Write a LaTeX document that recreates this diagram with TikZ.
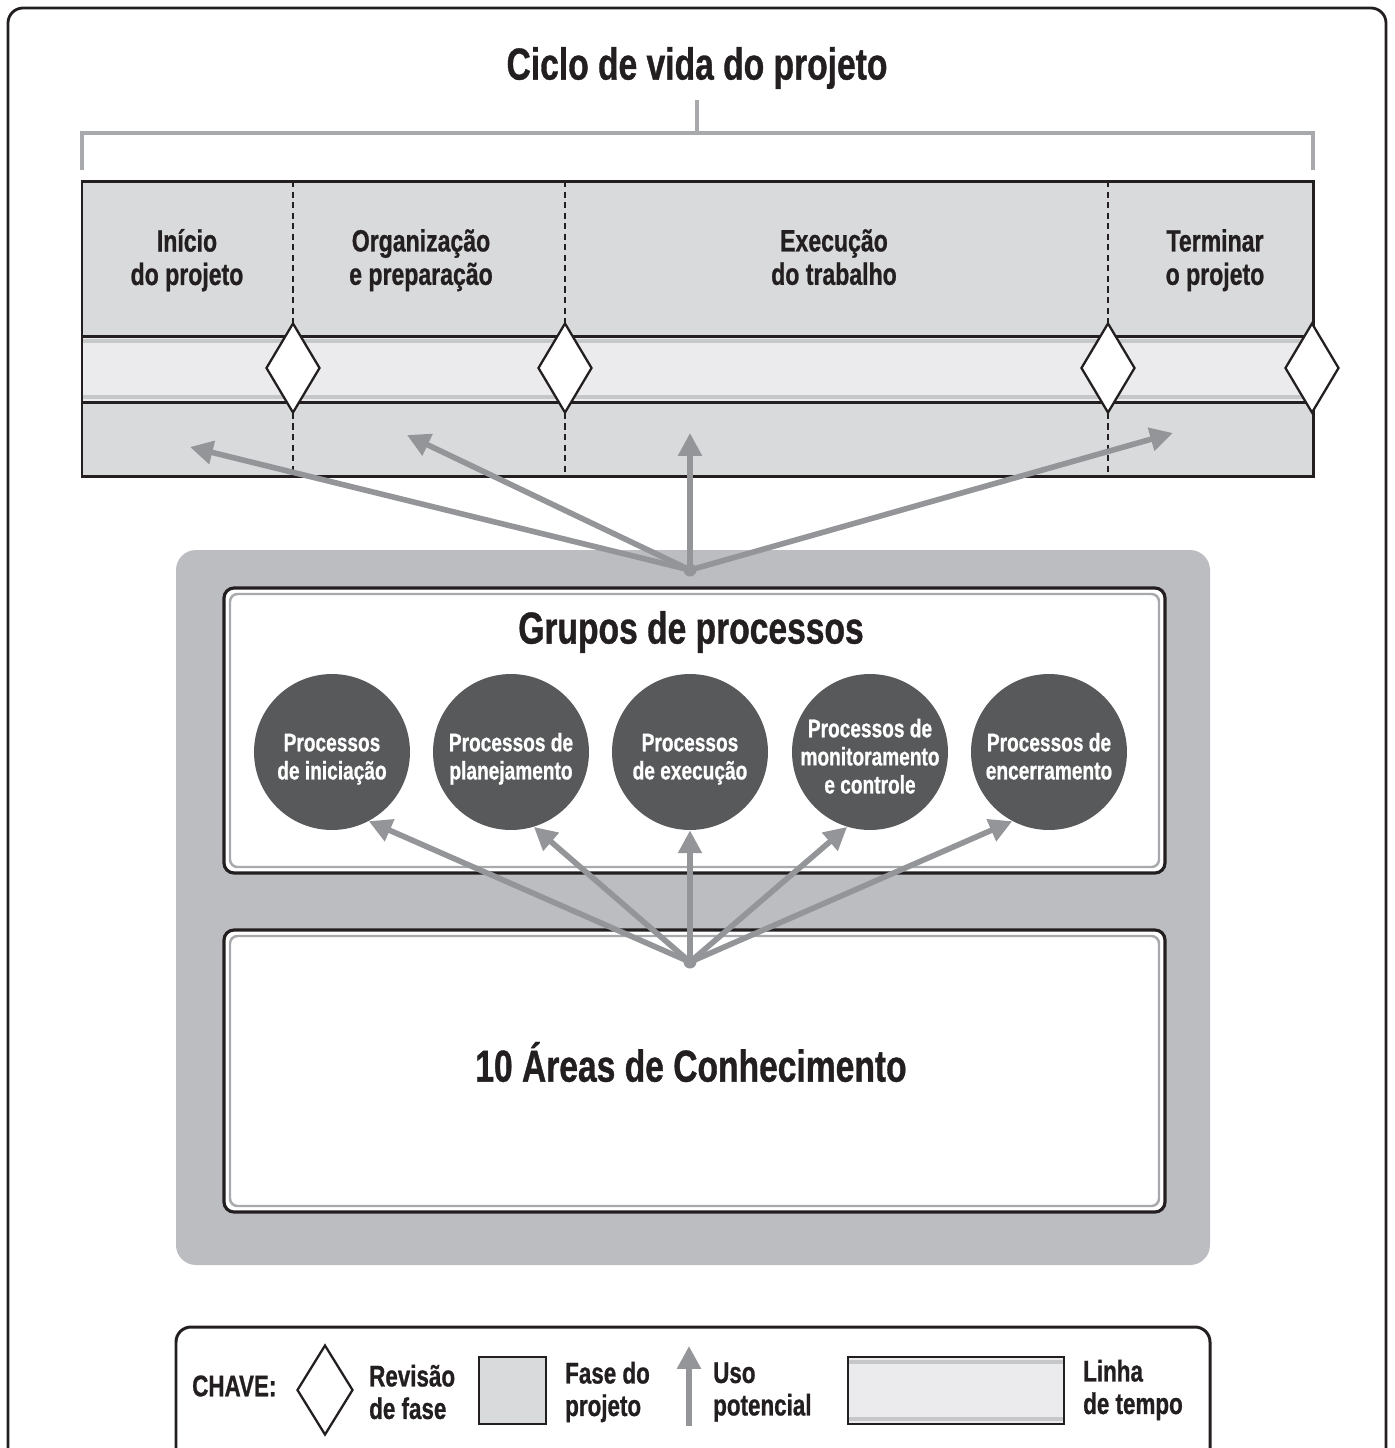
\documentclass[tikz,border=0pt]{standalone}
\usepackage{fontspec}
\setmainfont{Liberation Sans}[FakeStretch=0.75, BoldFeatures={FakeBold=0.8}]
\usepackage{xcolor}
\usepackage{tikz}
\usetikzlibrary{shapes,arrows,positioning,calc,arrows.meta}

\definecolor{tinta}{HTML}{231F20}
\definecolor{fasecor}{HTML}{D9DADB}
\definecolor{tempocor}{HTML}{EBEBED}
\definecolor{bordacor}{HTML}{C6C7C9}
\definecolor{fundocor}{HTML}{BCBDC0}
\definecolor{setacor}{HTML}{939598}
\definecolor{chavecor}{HTML}{A7A9AC}
\definecolor{bolacor}{HTML}{58595B}

\newcommand{\cbola}[1]{\rule{0pt}{20pt}#1\strut}

\begin{document}
\begin{tikzpicture}[auto, x=0.02cm, y=-0.02cm,
    seta/.style={draw=setacor, line width=3.2pt, -{Triangle[length=13pt,width=13pt]}},
    revisao/.style={diamond, draw=tinta, line width=1.3pt, fill=white, minimum width=1.08cm, minimum height=1.8cm, inner sep=0pt},
    processo/.style={circle, fill=bolacor, text=white, minimum size=3.12cm, inner sep=-8pt, align=center, font=\bfseries\fontsize{14.5}{16}\selectfont},
    fase/.style={align=center, text=tinta, font=\bfseries\fontsize{17.5}{19}\selectfont},
    titulo/.style={text=tinta, font=\bfseries\fontsize{25.5}{28}\selectfont},
    legenda/.style={align=left, text=tinta, font=\bfseries\fontsize{17}{18.5}\selectfont},
    divisa/.style={draw=tinta, line width=1.2pt, dash pattern=on 3.5pt off 2.5pt},
    painel/.style={draw=tinta, fill=white, line width=1.8pt, rounded corners=0.2cm},
    friso/.style={draw=chavecor, line width=1.4pt, rounded corners=0.15cm}]
    \useasboundingbox (0,0) rectangle (1394,1448);
    \draw[tinta, line width=1.6pt, rounded corners=0.3cm] (8,8) rectangle (1386,1490);

    \node (ciclo) [titulo] at (697,68) {Ciclo de vida do projeto};
    \draw[chavecor, line width=2.8pt] (82,170) -- (82,133) -- (1313,133) -- (1313,170);
    \draw[chavecor, line width=2.8pt] (697,133) -- (697,100);

    \fill[fasecor] (82,181) rectangle (1313,476);
    \fill[tempocor] (82,336) rectangle (1313,402);
    \draw[bordacor, line width=2.2pt] (82,341) -- (1313,341) (82,397) -- (1313,397);
    \draw[tinta, line width=1.7pt] (82,336) -- (1313,336) (82,402) -- (1313,402);
    \draw[tinta, line width=1.7pt] (82,181) rectangle (1313,476);
    \foreach \x in {293,565,1108}
        \draw[divisa] (\x,181) -- (\x,476);
    \node (rev1) [revisao] at (293,368) {};
    \node (rev2) [revisao] at (565,368) {};
    \node (rev3) [revisao] at (1108,368) {};
    \node (rev4) [revisao] at (1312,368) {};
    \node (inicio) [fase] at (187,262) {Início\\do projeto\strut};
    \node (organiza) [fase] at (421,262) {Organização\\e preparação\strut};
    \node (execucao) [fase] at (834,262) {Execução\\do trabalho\strut};
    \node (termina) [fase] at (1215,262) {Terminar\\o projeto\strut};

    \fill[fundocor, rounded corners=0.4cm] (176,550) rectangle (1210,1265);
    \draw[painel] (224,588) rectangle (1165,873);
    \draw[friso] (230,594) rectangle (1159,867);
    \draw[painel] (224,930) rectangle (1165,1212);
    \draw[friso] (230,936) rectangle (1159,1206);

    \coordinate (hubA) at (690,570);
    \coordinate (alvo1) at (190,447);
    \coordinate (alvo2) at (407,435);
    \coordinate (alvo3) at (690,433);
    \coordinate (alvo4) at (1173,433);
    \foreach \a in {1,...,4}
        \draw[seta] (hubA) -- (alvo\a);
    \fill[setacor] (hubA) circle (0.13cm);

    \node (grupos) [titulo] at (691,632) {Grupos de processos};
    \node (ini) [processo] at (332,752) {\cbola{Processos\\de iniciação}};
    \node (plan) [processo] at (511,752) {\cbola{Processos de\\planejamento}};
    \node (exec) [processo] at (690,752) {\cbola{Processos\\de execução}};
    \node (mon) [processo] at (870,752) {\cbola{Processos de\\monitoramento\\e controle}};
    \node (enc) [processo] at (1049,752) {\cbola{Processos de\\encerramento}};
    \node (areas) [titulo] at (691,1062) {10 Áreas de Conhecimento};

    \coordinate (hubB) at (690,962);
    \foreach \p/\a in {ini/-62,plan/-73,exec/-90,mon/-107,enc/-118}
        \draw[seta] (hubB) -- (\p.\a);
    \fill[setacor] (hubB) circle (0.13cm);

    \draw[tinta, line width=1.7pt, fill=white, rounded corners=0.3cm] (176,1327) rectangle (1210,1500);
    \node (chave) [legenda, anchor=west] at (186,1386) {CHAVE:};
    \node (revkey) [revisao, minimum width=1.12cm] at (325,1390) {};
    \node (revtxt) [legenda, anchor=west] at (363,1392) {Revisão\\de fase};
    \draw[tinta, fill=fasecor, line width=1.2pt] (479,1357) rectangle (546,1424);
    \node (fasetxt) [legenda, anchor=west] at (559,1392) {Fase do\\projeto};
    \coordinate (usobase) at (689,1426);
    \coordinate (usotopo) at (689,1346);
    \draw[seta] (usobase) -- (usotopo);
    \node (usotxt) [legenda, anchor=west] at (707,1392) {Uso\\potencial};
    \fill[tempocor] (848,1357) rectangle (1064,1424);
    \draw[bordacor, line width=2.2pt] (848,1362) -- (1064,1362) (848,1419) -- (1064,1419);
    \draw[tinta, line width=1.2pt] (848,1357) rectangle (1064,1424);
    \node (tempotxt) [legenda, anchor=west] at (1077,1390) {Linha\\de tempo};
\end{tikzpicture}
\end{document}
